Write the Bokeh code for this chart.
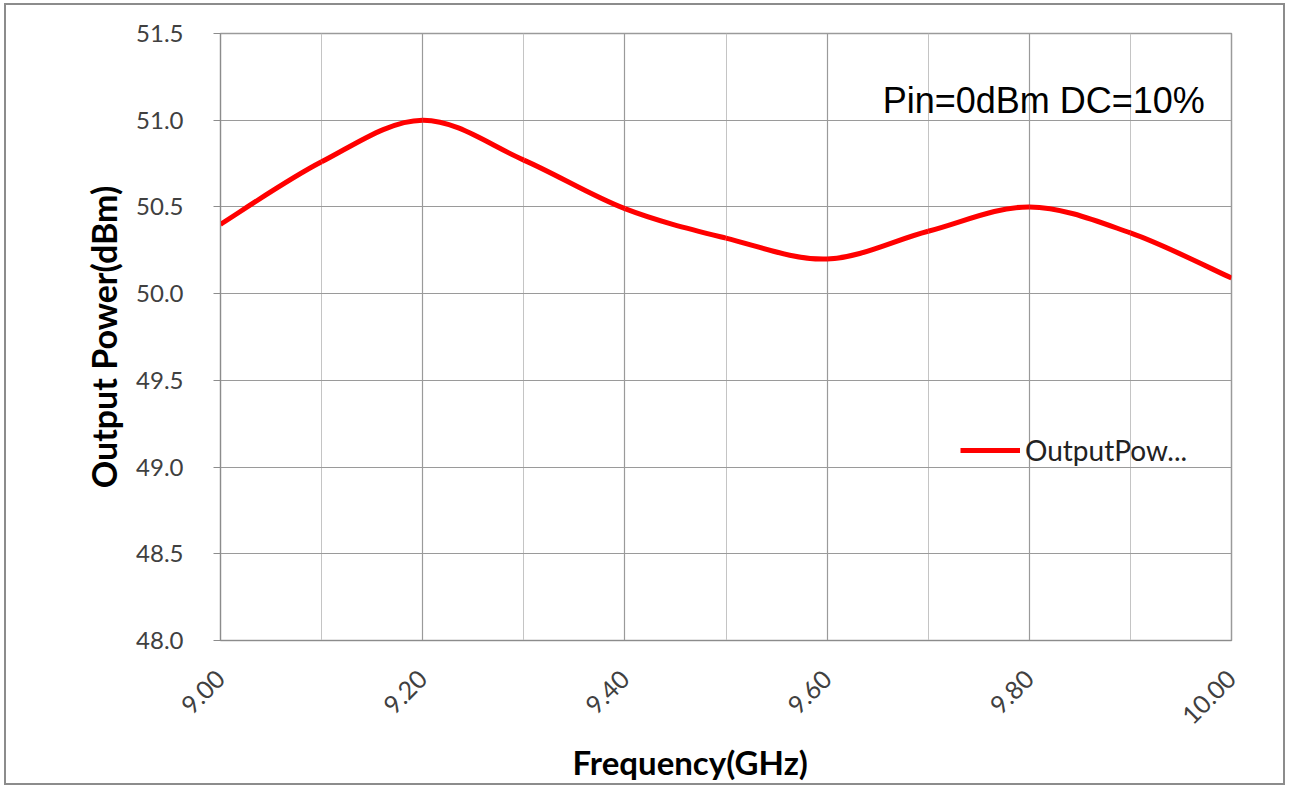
import numpy as np
from bokeh.plotting import figure
from bokeh.models import (FixedTicker, Label, Legend, LegendItem, ColumnDataSource,
                          Range1d, PrintfTickFormatter, Title)
from bokeh.embed import file_html
from bokeh.resources import INLINE
import math

# ---- data ----
freq_ghz = [9.0, 9.1, 9.2, 9.3, 9.4, 9.5, 9.6, 9.7, 9.8, 9.9, 10.0]
output_power_dbm = [50.40, 50.76, 51.00, 50.77, 50.49, 50.32, 50.20, 50.36, 50.50, 50.35, 50.09]
x_ticks = [9.0, 9.2, 9.4, 9.6, 9.8, 10.0]
x_minor = [9.1, 9.3, 9.5, 9.7, 9.9]
y_ticks = [48.0, 48.5, 49.0, 49.5, 50.0, 50.5, 51.0, 51.5]
series_label = "OutputPow..."
annotation_text = "Pin=0dBm DC=10%"
x_title = "Frequency(GHz)"
y_title = "Output Power(dBm)"

W, H = 1281, 782
p = figure(width=W, height=H, output_backend="svg", toolbar_location=None,
           x_range=Range1d(9.0, 10.0), y_range=Range1d(48.0, 51.5),
           min_border_left=214, min_border_right=56, min_border_top=28,
           min_border_bottom=147)
p.styles = {"border": "2px solid #8c8c8c", "margin-left": "4px", "margin-top": "3px"}
p.outline_line_color = "#9a9a9a"
p.outline_line_width = 1.5
p.background_fill_color = "white"
p.border_fill_color = "white"

# smooth curve (Excel-like) as cubic bezier segments computed from the data points
xs = np.array(freq_ghz); ys = np.array(output_power_dbm)
n = len(xs)
seg = dict(x0=[], y0=[], x1=[], y1=[], cx0=[], cy0=[], cx1=[], cy1=[])
for i in range(n - 1):
    i0 = max(i - 1, 0); i3 = min(i + 2, n - 1)
    seg["x0"].append(xs[i]); seg["y0"].append(ys[i])
    seg["x1"].append(xs[i + 1]); seg["y1"].append(ys[i + 1])
    seg["cx0"].append(xs[i] + (xs[i + 1] - xs[i0]) / 6)
    seg["cy0"].append(ys[i] + (ys[i + 1] - ys[i0]) / 6)
    seg["cx1"].append(xs[i + 1] - (xs[i3] - xs[i]) / 6)
    seg["cy1"].append(ys[i + 1] - (ys[i3] - ys[i]) / 6)
p.bezier(source=ColumnDataSource(seg), x0="x0", y0="y0", x1="x1", y1="y1",
         cx0="cx0", cy0="cy0", cx1="cx1", cy1="cy1",
         line_color="#ff0000", line_width=5)

# legend sample line (a single point: draws nothing in the plot itself)
leg_r = p.line(x=freq_ghz[:1], y=output_power_dbm[:1], line_color="#ff0000", line_width=5)
legend = Legend(items=[LegendItem(label=series_label, renderers=[leg_r])],
                location=(740, 173), padding=0, margin=0, border_line_color=None,
                background_fill_alpha=0, glyph_width=60, glyph_height=30,
                label_standoff=5, label_text_font="Lato", label_text_font_size="28px",
                label_text_color="#222222", label_height=30)
p.add_layout(legend, "center")

# axes
p.xaxis.ticker = FixedTicker(ticks=x_ticks, minor_ticks=x_minor)
p.xaxis.formatter = PrintfTickFormatter(format="%.2f")
p.xaxis.major_label_orientation = math.pi / 4
p.xaxis.major_tick_line_color = None
p.xaxis.minor_tick_line_color = None
p.xaxis.axis_line_color = "#8c8c8c"
p.xaxis.major_label_text_font = "Lato"
p.xaxis.major_label_text_font_size = "25px"
p.xaxis.major_label_text_color = "#404040"
p.xaxis.major_label_standoff = 28

p.yaxis.ticker = FixedTicker(ticks=y_ticks)
p.yaxis.formatter = PrintfTickFormatter(format="%.1f")
p.yaxis.major_tick_out = 7
p.yaxis.major_tick_in = 0
p.yaxis.minor_tick_line_color = None
p.yaxis.major_tick_line_color = "#8c8c8c"
p.yaxis.axis_line_color = "#8c8c8c"
p.yaxis.major_label_text_font = "Lato"
p.yaxis.major_label_text_font_size = "24px"
p.yaxis.major_label_text_color = "#404040"
p.yaxis.major_label_standoff = 30
p.yaxis.axis_label = y_title
p.yaxis.axis_label_text_font = "Lato"
p.yaxis.axis_label_text_font_style = "bold"
p.yaxis.axis_label_text_font_size = "34px"
p.yaxis.axis_label_text_color = "#000000"
p.yaxis.axis_label_standoff = 9

# grids
p.xgrid.ticker = FixedTicker(ticks=x_ticks, minor_ticks=x_minor)
p.xgrid.grid_line_color = "#9a9a9a"
p.xgrid.minor_grid_line_color = "#c4c4c4"
p.xgrid.grid_line_width = 1.2
p.ygrid.ticker = FixedTicker(ticks=y_ticks)
p.ygrid.grid_line_color = "#9a9a9a"
p.ygrid.grid_line_width = 1.2

# texts
p.add_layout(Label(x=9.655, y=51.115, text=annotation_text, text_font="Liberation Sans",
                   text_font_size="36px", text_color="#000000", text_baseline="alphabetic"))
xt = Title(text=x_title, align="left", offset=352, text_font="Lato", text_font_style="bold",
           text_font_size="33px", text_color="#000000", vertical_align="bottom")
try:
    xt.standoff = 9
except Exception:
    pass
p.add_layout(xt, "below")

open("out.html", "w").write(file_html(p, INLINE))
